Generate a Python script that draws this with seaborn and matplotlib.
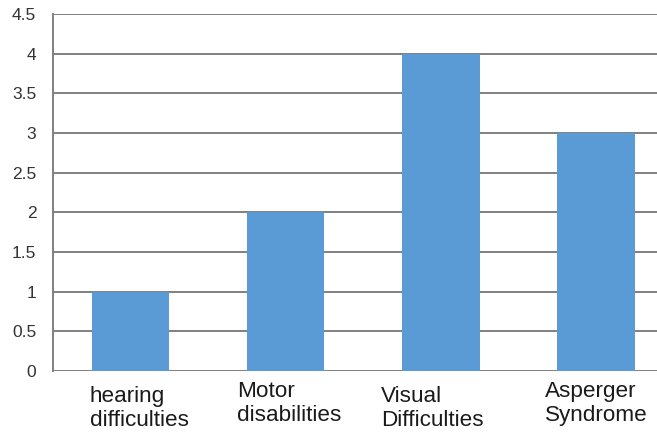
import matplotlib
matplotlib.use("Agg")
import matplotlib.pyplot as plt
import matplotlib.transforms as mtransforms
import seaborn as sns
import pandas as pd

categories = ["hearing\ndifficulties", "Motor\ndisabilities", "Visual\nDifficulties", "Asperger\nSyndrome"]
values = [1, 2, 4, 3]
yticks = [0, 0.5, 1, 1.5, 2, 2.5, 3, 3.5, 4, 4.5]
ytick_labels = ["0", "0.5", "1", "1.5", "2", "2.5", "3", "3.5", "4", "4.5"]

# label offsets (px) relative to bar centre (left edge of text, top of text)
label_dx = [-41, -49, -60, -51]
label_dy = [-15, -10, -15, -10]

sns.set_theme(style="white")
plt.rcParams["font.family"] = ["Liberation Sans", "DejaVu Sans"]

df = pd.DataFrame({"cat": categories, "val": values})

fig = plt.figure(figsize=(6.57, 4.38), dpi=100)
ax = fig.add_axes([53 / 657, 67 / 438, 620.5 / 657, 357 / 438])

sns.barplot(data=df, x="cat", y="val", color="#5B9BD5", saturation=1, width=0.5, ax=ax,
            zorder=3, linewidth=0, edgecolor="none")

ax.set_ylim(0, 4.5)
ax.set_xlim(-0.5, 3.5)
ax.set_yticks(yticks)
ax.set_yticklabels(ytick_labels, fontsize=12.5, color="#333333")
ax.tick_params(axis="y", length=0, pad=12)
ax.set_xticks(range(len(categories)))
ax.set_xticklabels([])
ax.tick_params(axis="x", length=0)
ax.set_xlabel("")
ax.set_ylabel("")

ax.yaxis.grid(True, color="#808080", linewidth=1.4, zorder=0)
ax.set_axisbelow(True)
for s in ["top", "right", "bottom"]:
    ax.spines[s].set_visible(False)
ax.spines["left"].set_color("#808080")
ax.spines["left"].set_linewidth(1.4)

trans = mtransforms.blended_transform_factory(ax.transData, ax.transAxes)
for i, lab in enumerate(categories):
    off = mtransforms.ScaledTranslation(label_dx[i] / 100, label_dy[i] / 100, fig.dpi_scale_trans)
    ax.text(i, 0, lab, transform=trans + off, ha="left", va="top", multialignment="left",
            fontsize=16.2, color="#1a1a1a", linespacing=1.2)

fig.savefig("out.png", dpi=100)
